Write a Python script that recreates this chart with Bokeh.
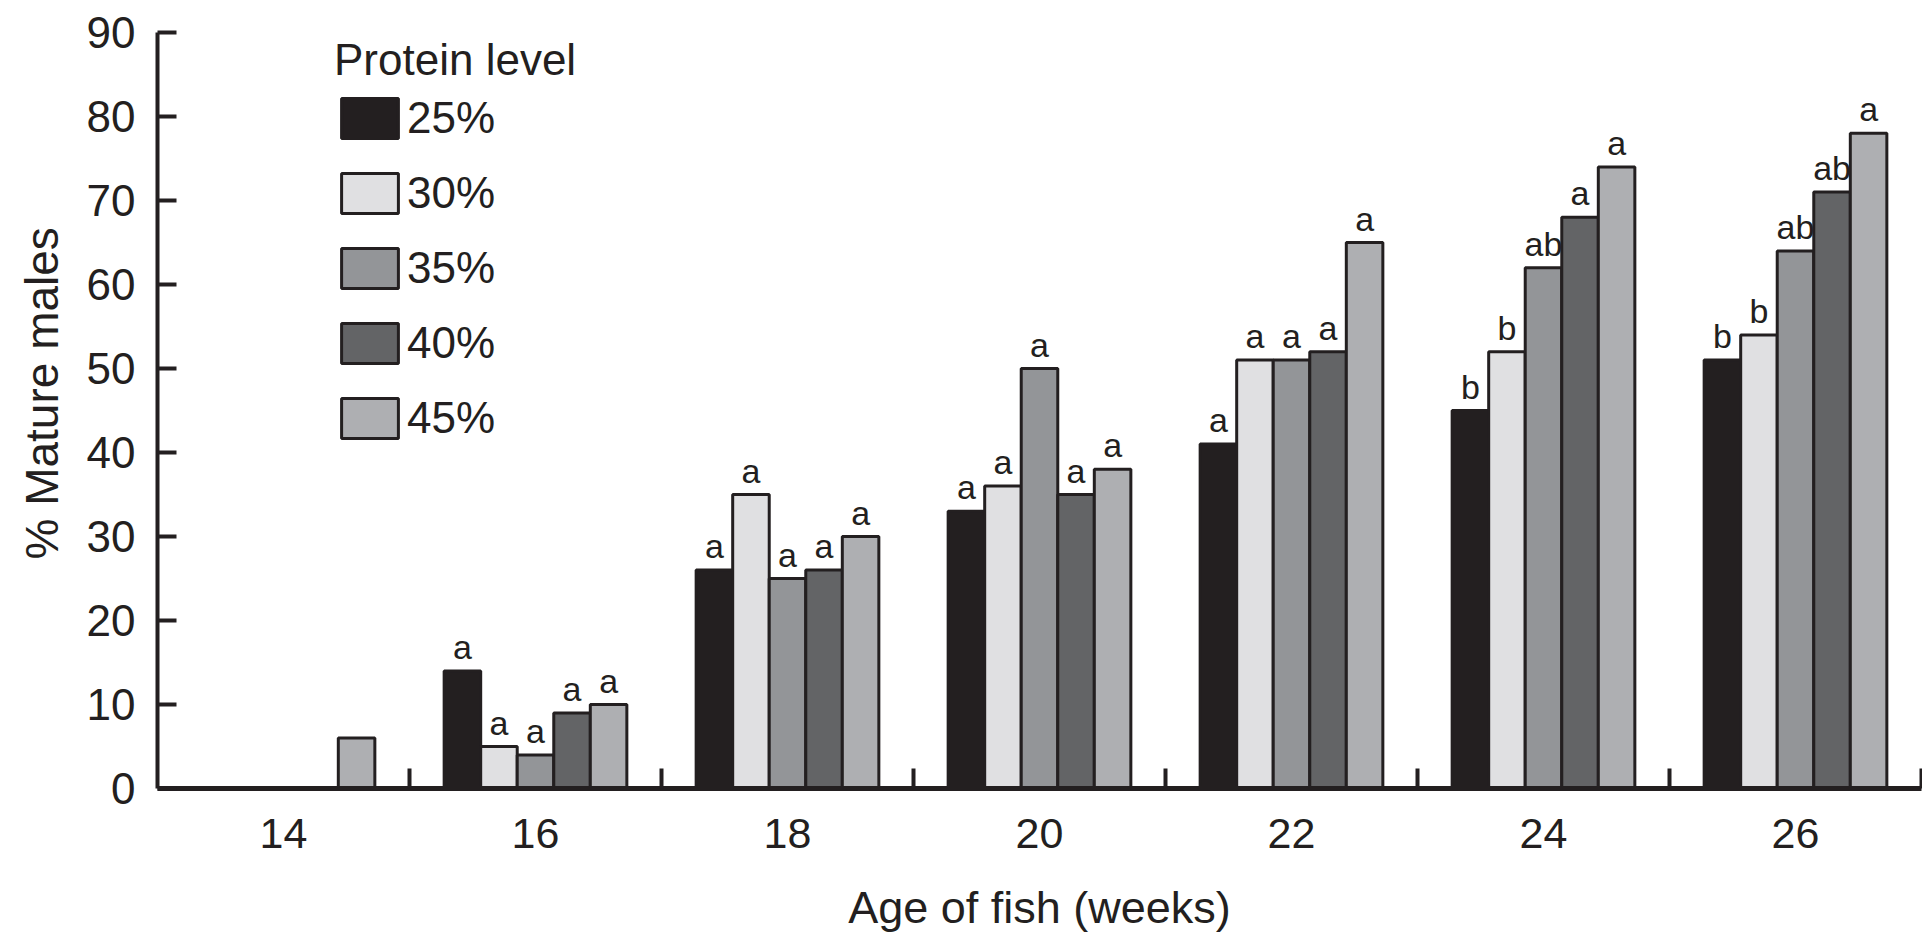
from bokeh.plotting import figure
from bokeh.models import Range1d, FixedTicker, ColumnDataSource, LabelSet, Legend, LegendItem, Title
from bokeh.core.properties import value
from bokeh.embed import file_html
from bokeh.resources import INLINE

# ---- data ----
weeks = [14, 16, 18, 20, 22, 24, 26]
week_labels = ["14", "16", "18", "20", "22", "24", "26"]
levels = ["25%", "30%", "35%", "40%", "45%"]
p25 = [0, 14, 26, 33, 41, 45, 51]
p30 = [0, 5, 35, 36, 51, 52, 54]
p35 = [0, 4, 25, 50, 51, 62, 64]
p40 = [0, 9, 26, 35, 52, 68, 71]
p45 = [6, 10, 30, 38, 65, 74, 78]
sig25 = ["", "a", "a", "a", "a", "b", "b"]
sig30 = ["", "a", "a", "a", "a", "b", "b"]
sig35 = ["", "a", "a", "a", "a", "ab", "ab"]
sig40 = ["", "a", "a", "a", "a", "a", "ab"]
sig45 = ["", "a", "a", "a", "a", "a", "a"]
y_ticks = [0, 10, 20, 30, 40, 50, 60, 70, 80, 90]
colors = ["#231f20", "#e0e0e2", "#939598", "#636466", "#aeafb2"]

series = [p25, p30, p35, p40, p45]
sigs = [sig25, sig30, sig35, sig40, sig45]

INK = "#231f20"
FONT = "Liberation Sans"
bar_w = 0.29  # in weeks (group spans 2 weeks)

x_lo, x_hi = weeks[0] - 1, weeks[-1] + 1
p = figure(width=1922, height=936,
           x_range=Range1d(x_lo, x_hi), y_range=Range1d(0, 90),
           output_backend="svg", toolbar_location=None,
           min_border_left=157, min_border_right=1, min_border_top=32, min_border_bottom=148)
p.outline_line_color = None
p.xgrid.visible = False
p.ygrid.visible = False
p.background_fill_color = "white"
p.border_fill_color = "white"

renderers = []
for i, (vals, sig) in enumerate(zip(series, sigs)):
    xs = [w + (i - 2) * bar_w for w in weeks]
    src = ColumnDataSource(dict(x=xs, top=vals, sig=sig))
    r = p.vbar(x="x", top="top", bottom=0, width=bar_w, source=src,
               fill_color=colors[i], line_color=INK, line_width=3)
    renderers.append(r)
    lab = LabelSet(x="x", y="top", text="sig", source=src, y_offset=12,
                   text_align="center", text_baseline="alphabetic",
                   text_font=value(FONT), text_font_size=value("34px"), text_color=INK)
    p.add_layout(lab)

# x axis
xa = p.xaxis[0]
xa.ticker = FixedTicker(ticks=weeks, minor_ticks=[w + 1 for w in weeks])
xa.major_label_overrides = {w: l for w, l in zip(weeks, week_labels)}
xa.major_tick_line_color = None
xa.minor_tick_in = 20
xa.minor_tick_out = 0
xa.minor_tick_line_width = 4
xa.minor_tick_line_color = INK
xa.axis_line_width = 5
xa.axis_line_color = INK
xa.major_label_text_font = FONT
xa.major_label_text_font_size = "43px"
xa.major_label_text_color = INK
xa.major_label_standoff = 24
xa.axis_label = "Age of fish (weeks)"
xa.axis_label_text_font = FONT
xa.axis_label_text_font_size = "45px"
xa.axis_label_text_font_style = "normal"
xa.axis_label_text_color = INK
xa.axis_label_standoff = 31

# y axis
ya = p.yaxis[0]
ya.ticker = FixedTicker(ticks=y_ticks, minor_ticks=[])
ya.major_tick_in = 19
ya.major_tick_out = 0
ya.major_tick_line_width = 4
ya.major_tick_line_color = INK
ya.axis_line_width = 4
ya.axis_line_color = INK
ya.major_label_text_font = FONT
ya.major_label_text_font_size = "44px"
ya.major_label_text_color = INK
ya.major_label_standoff = 22

# y axis title (placed a little above the middle, as in the original)
p.add_layout(Title(text="% Mature males", align="left", offset=229, vertical_align="top",
                   standoff=28, text_font=FONT, text_font_size="46px",
                   text_font_style="normal", text_color=INK), "left")

legend = Legend(items=[LegendItem(label=lv, renderers=[r]) for lv, r in zip(levels, renderers)],
                location=(177, 345), title="Protein level",
                glyph_width=71, glyph_height=50, label_height=40, spacing=25,
                label_standoff=2, padding=0, margin=0,
                border_line_color=None, background_fill_alpha=0,
                label_text_font=FONT, label_text_font_size="44px", label_text_color=INK,
                title_text_font=FONT, title_text_font_size="44px", title_text_font_style="normal",
                title_text_color=INK, title_standoff=8)
p.add_layout(legend)

open("out.html", "w").write(file_html(p, INLINE))
